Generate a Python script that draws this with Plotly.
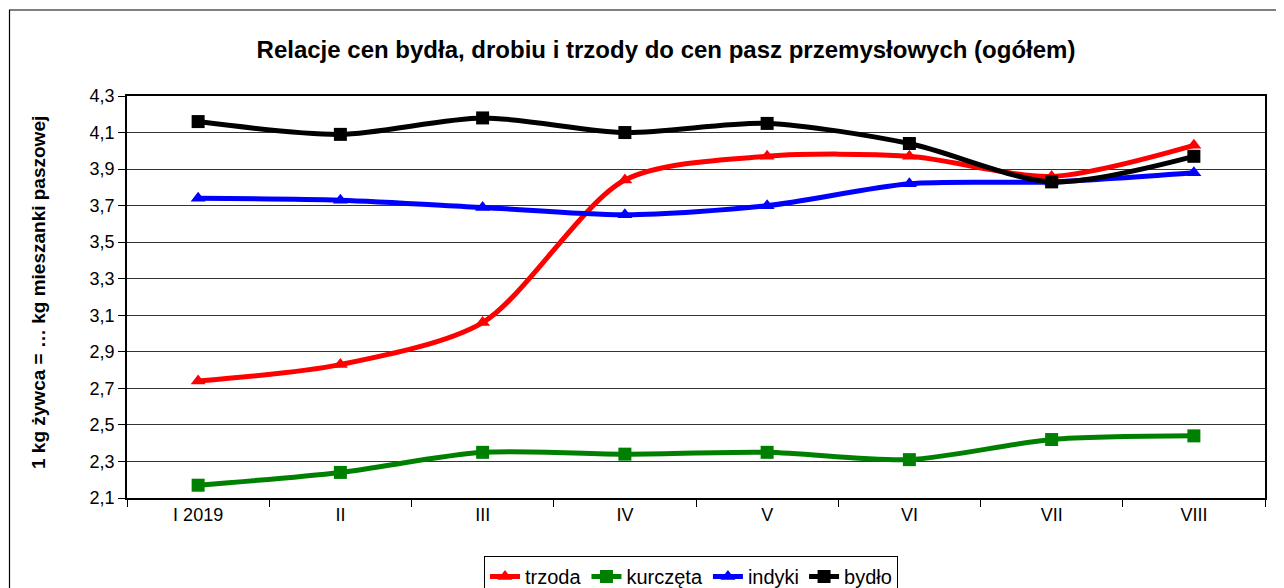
import plotly.graph_objects as go

categories = ["I 2019", "II", "III", "IV", "V", "VI", "VII", "VIII"]
trzoda = [2.74, 2.83, 3.06, 3.84, 3.97, 3.97, 3.86, 4.03]
kurczeta = [2.17, 2.24, 2.35, 2.34, 2.35, 2.31, 2.42, 2.44]
indyki = [3.74, 3.73, 3.69, 3.65, 3.70, 3.82, 3.83, 3.88]
bydlo = [4.16, 4.09, 4.18, 4.10, 4.15, 4.04, 3.83, 3.97]

FONT = "Arial, Liberation Sans, sans-serif"

series = [
    ("trzoda", trzoda, "#FF0000", "triangle-up", 13),
    ("kurczęta", kurczeta, "#008000", "square", 13),
    ("indyki", indyki, "#0000FF", "triangle-up", 13),
    ("bydło", bydlo, "#000000", "square", 13),
]

fig = go.Figure()
for name, vals, color, sym, size in series:
    fig.add_trace(go.Scatter(
        x=categories, y=vals, name=name, mode="lines+markers",
        line=dict(color=color, width=5, shape="spline", smoothing=0.8),
        marker=dict(symbol=sym, size=size, color=color),
    ))

# page body has an 8px default margin
OFF = 8
W, H = 1284 - OFF, 588 - OFF
L, R, T, B = 127 - OFF, 1265 - OFF, 96 - OFF, 498 - OFF

def px_x(p):
    return (p - OFF - L) / (R - L)

def px_y(p):
    return (B - (p - OFF)) / (B - T)

fig.update_layout(
    width=W, height=H,
    margin=dict(l=L, r=W - R, t=T, b=H - B, autoexpand=False),
    paper_bgcolor="white", plot_bgcolor="white",
    separators=", ",
    font=dict(family=FONT, color="#000000", size=18),
    title=dict(
        text="<b>Relacje cen bydła, drobiu i trzody do cen pasz przemysłowych (ogółem)</b>",
        xref="paper", x=px_x(666), xanchor="center",
        yref="container", y=1 - (50 - OFF) / H, yanchor="middle",
        font=dict(size=24, family=FONT, color="#000000"),
    ),
    showlegend=True,
    legend=dict(
        orientation="h", x=px_x(691), xanchor="center", y=px_y(556), yanchor="top",
        bordercolor="#000000", borderwidth=1, bgcolor="white",
        font=dict(size=20, family=FONT), itemwidth=30, tracegroupgap=0,
    ),
    xaxis=dict(
        type="category", range=[-0.5, 7.5],
        showline=True, linecolor="#000000", linewidth=1.5, mirror=True,
        ticks="outside", tickson="boundaries", ticklen=7, tickcolor="#000000",
        showgrid=False, tickfont=dict(size=18, family=FONT),
    ),
    yaxis=dict(
        range=[2.1, 4.3], dtick=0.2, tick0=2.1, tickformat=".1f",
        showline=True, linecolor="#000000", linewidth=1.5, mirror=True,
        ticks="outside", ticklen=7, tickcolor="#000000",
        showgrid=True, gridcolor="#333333", gridwidth=1,
        tickfont=dict(size=18, family=FONT), zeroline=False,
    ),
    annotations=[dict(
        text="<b>1 kg żywca = … kg mieszanki paszowej</b>",
        x=px_x(38), y=px_y(293), xref="paper", yref="paper",
        textangle=-90, showarrow=False, xanchor="center", yanchor="middle",
        font=dict(size=19, family=FONT, color="#000000"),
    )],
    shapes=[dict(
        type="rect", xref="paper", yref="paper",
        x0=px_x(9.5), x1=px_x(1340), y0=px_y(10), y1=px_y(650),
        line=dict(color="#000000", width=1.2), fillcolor="rgba(0,0,0,0)",
        layer="below",
    )],
)

fig.write_html("out.html")
